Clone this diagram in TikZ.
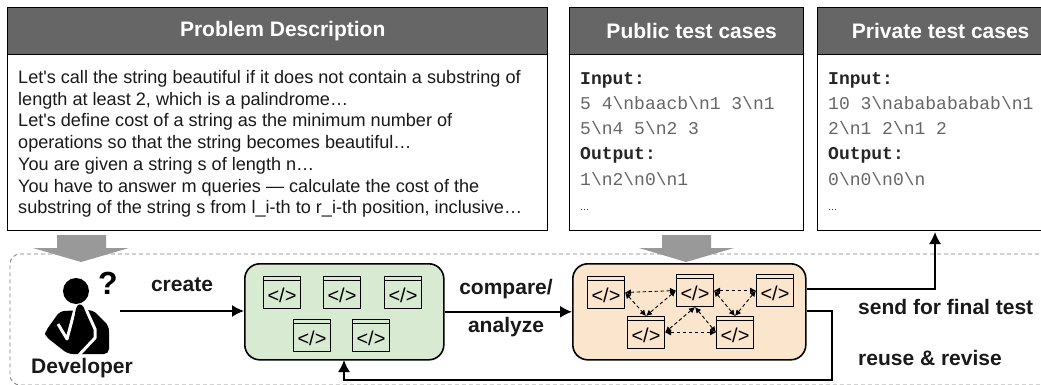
\documentclass[tikz,border=0pt]{standalone}
\usepackage{fontspec}
\setmainfont{Liberation Sans}
\setmonofont{Liberation Mono}
\usetikzlibrary{arrows.meta,calc}
\definecolor{hdr}{HTML}{666666}
\definecolor{grn}{HTML}{D9EAD3}
\definecolor{org}{HTML}{FCE5CD}
\definecolor{garrow}{HTML}{999999}
\tikzset{
  x=1pt,y=-1pt,
  panel/.style={draw=black,line width=1.4pt,fill=white,anchor=north west,inner sep=0pt},
  hdrbox/.style={draw=black,line width=1.4pt,fill=hdr,text=white,font=\fontsize{21}{24}\selectfont\bfseries,anchor=north west,inner sep=0pt,align=center},
  ptext/.style={anchor=base west,inner sep=0,font=\fontsize{18.1}{20}\selectfont,text=black!90},
  mono/.style={anchor=base west,inner sep=0,font=\ttfamily\fontsize{18}{20}\selectfont,text=black!60},
  monob/.style={anchor=base west,inner sep=0,font=\ttfamily\bfseries\fontsize{18}{20}\selectfont,text=black!85},
  dots/.style={anchor=base west,inner sep=0,font=\fontsize{9}{10}\selectfont},
  lbl/.style={inner sep=0,font=\fontsize{21}{24}\selectfont\bfseries,text=black!90},
  grp/.style={draw=black,line width=1.6pt,rounded corners=15pt,anchor=north west,inner sep=0pt},
  conn/.style={line width=1.5pt,-{Latex[length=12pt,width=12pt]}},
  dconn/.style={line width=.9pt,dash pattern=on 3.5pt off 2.5pt,{Latex[length=6pt,width=6pt]}-{Latex[length=6pt,width=6pt]}},
  codebox/.style={draw=black,line width=1pt,minimum width=37pt,minimum height=32pt,inner sep=0pt,anchor=north west},
}
\newcommand{\codeicon}[3]{%
  \node[codebox] (#1) at (#2,#3) {};
  \draw[line width=1pt] ($(#1.north west)+(0,4.5)$) -- ($(#1.north east)+(0,4.5)$);
  \node[inner sep=0,font=\fontsize{20}{22}\selectfont] at ($(#1.center)+(0,2.5)$) {</>};
}
\begin{document}
\begin{tikzpicture}
\useasboundingbox (0,0) rectangle (1041,385);
\fill[white] (0,0) rectangle (1041,385);
% group dashed
\draw[draw=black!50,line width=.8pt,dash pattern=on 4pt off 3pt,rounded corners=10pt] (1060,254) -- (10,254) -- (10,385) -- (1060,385);
% Gray arrows
\fill[garrow] (57,235) -- (106,235) -- (106,248) -- (129,248) -- (81,262) -- (33,248) -- (57,248) -- cycle;
\fill[garrow] (662,235) -- (711,235) -- (711,248) -- (734,248) -- (686,262) -- (639,248) -- (662,248) -- cycle;
% Panels
\node[panel,minimum width=540pt,minimum height=223pt] (prob) at (7,7) {};
\node[hdrbox,minimum width=540pt,minimum height=47pt] (probh) at (7,7) {\hspace*{10pt}Problem Description};
\node[panel,minimum width=234pt,minimum height=223pt] (pub) at (569,7) {};
\node[hdrbox,minimum width=234pt,minimum height=47pt] (pubh) at (569,7) {\hspace*{10pt}Public test cases};
\node[panel,minimum width=246pt,minimum height=223pt] (pri) at (817,7) {};
\node[hdrbox,minimum width=246pt,minimum height=47pt] (prih) at (817,7) {Private test cases};
% Problem text
\node[ptext] (t1) at (18,84) {Let\textquotesingle s call the string beautiful if it does not contain a substring of};
\node[ptext] (t2) at (18,105.5) {length at least 2, which is a palindrome…};
\node[ptext] (t3) at (18,127) {Let\textquotesingle s define cost of a string as the minimum number of};
\node[ptext] (t4) at (18,149) {operations so that the string becomes beautiful…};
\node[ptext] (t5) at (18,170.5) {You are given a string s of length n…};
\node[ptext] (t6) at (18,192) {You have to answer m queries — calculate the cost of the};
\node[ptext] (t7) at (18,213.5) {substring of the string s from l\_i-th to r\_i-th position, inclusive…};
% Public
\node[monob] (a1) at (580,85) {Input:};
\node[mono] (a2) at (580,110) {5 4\textbackslash nbaacb\textbackslash n1 3\textbackslash n1};
\node[mono] (a3) at (580,135) {5\textbackslash n4 5\textbackslash n2 3};
\node[monob] (a4) at (580,160) {Output:};
\node[mono] (a5) at (580,185) {1\textbackslash n2\textbackslash n0\textbackslash n1};
\node[dots] (a6) at (580,210) {…};
% Private
\node[monob] (b1) at (828,85) {Input:};
\node[mono] (b2) at (828,110) {10 3\textbackslash nababababab\textbackslash n1};
\node[mono] (b3) at (828,135) {2\textbackslash n1 2\textbackslash n1 2};
\node[monob] (b4) at (828,160) {Output:};
\node[mono] (b5) at (828,185) {0\textbackslash n0\textbackslash n0\textbackslash n};
\node[dots] (b6) at (828,210) {…};
% Groups
\node[grp,fill=grn,minimum width=199pt,minimum height=96pt] (green) at (244,263) {};
\node[grp,fill=org,minimum width=233pt,minimum height=96pt] (orange) at (572,263) {};
\codeicon{g1}{263}{276}
\codeicon{g2}{323}{276}
\codeicon{g3}{384}{276}
\codeicon{g4}{293}{319}
\codeicon{g5}{352}{319}
\codeicon{o1}{587}{276}
\codeicon{o2}{676}{274}
\codeicon{o3}{756}{274}
\codeicon{o4}{627}{316}
\codeicon{o5}{716}{316}
\draw[dconn] (o1.east) -- (o2.west);
\draw[dconn] (o2.east) -- (o3.west);
\draw[dconn] (o1.east) -- (o4.north);
\draw[dconn] (o2.west) -- (o4.north);
\draw[dconn] (o2.south) -- (o4.east);
\draw[dconn] (o2.south) -- (o5.west);
\draw[dconn] (o4.east) -- (o5.west);
\draw[dconn] (o2.east) -- (o5.north);
\draw[dconn] (o3.west) -- (o5.north);
% Developer icon
\node[inner sep=0,font=\fontsize{32}{34}\selectfont\bfseries] (qm) at (108,283) {?};
\fill[black] (76,291) circle (13);
\fill[black,rounded corners=5pt] (45,332) -- (60,311) -- (93,310) -- (109,326) -- (109,354) -- (68,354) -- (45,336) -- cycle;
\draw[white,line width=3pt,line join=round] (58,324) -- (67,339) -- (75,309);
\draw[white,line width=3pt,line join=round] (85,307) -- (95,329) -- (95,338) -- (79,355);
\fill[black,rounded corners=2.5pt] (76,308) -- (79,303.5) -- (83.5,306) -- (90,328) -- (72,349) -- (70,343) -- cycle;
\node[lbl] (dev) at (82,368) {Developer};
\coordinate (devr) at (120,311);
\draw[conn] (devr) -- (green.west |- devr);
\node[lbl] (create) at (182,285) {create};
\node[lbl] (cmp) at (506,289) {compare/};
\node[lbl] (ana) at (506,327) {analyze};
\draw[conn] (green.east) -- (orange.west);
% Right connectors
\coordinate (sendup) at (935,232);
\coordinate (revturn) at (832,380);
\coordinate (revtip) at (344,360);
\draw[conn] (orange.east |- 0,289) -- (sendup |- 0,289) -- (sendup);
\draw[conn] (orange.east |- 0,311) -- (revturn |- 0,311) -- (revturn) -- (revtip |- revturn) -- (revtip);
\node[lbl,anchor=west] (send) at (858,307) {send for final test};
\node[lbl,anchor=west] (reuse) at (858,358) {reuse \& revise};
\end{tikzpicture}
\end{document}
